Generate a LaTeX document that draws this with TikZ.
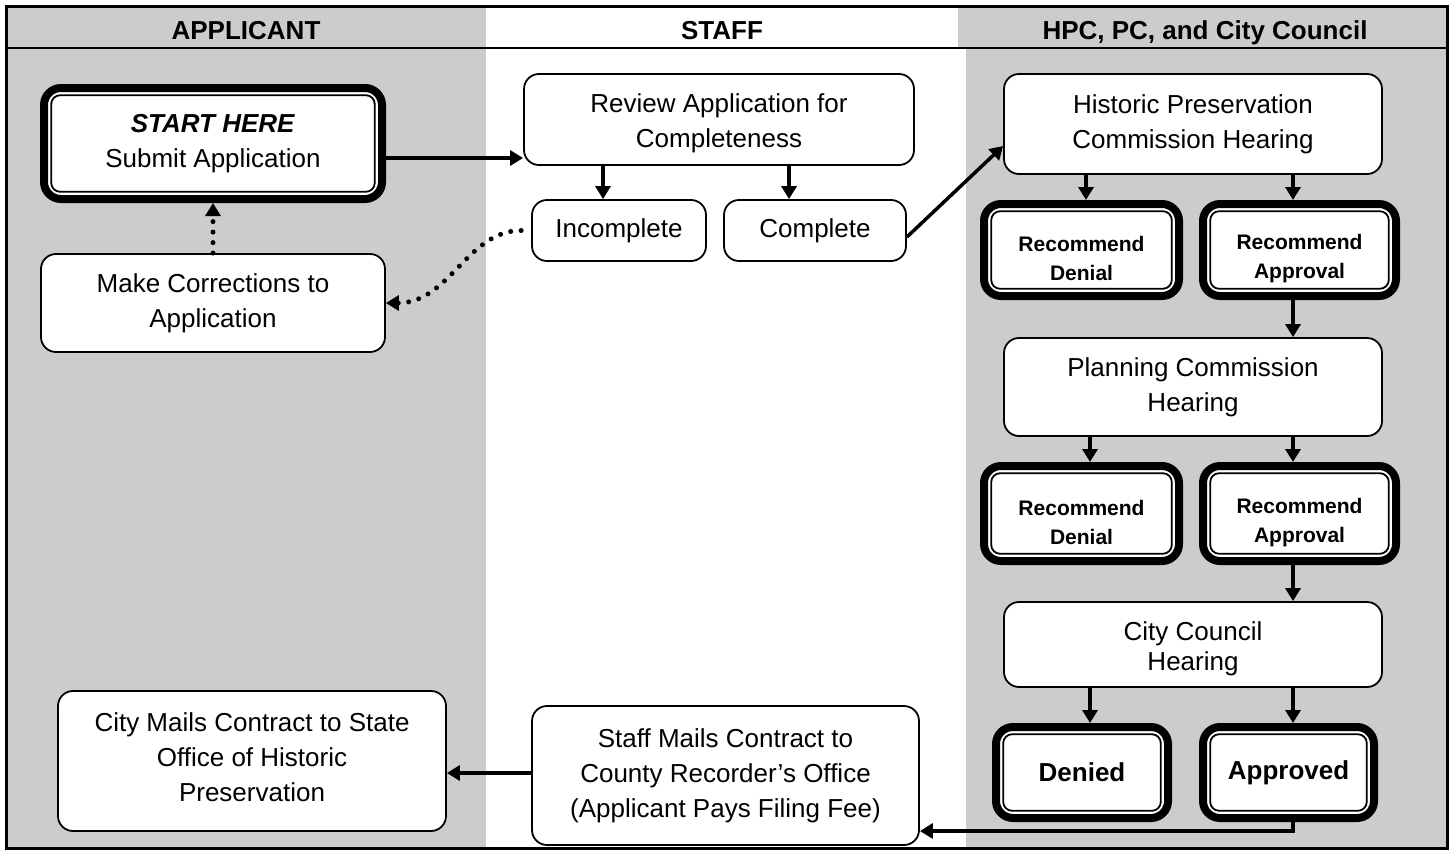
\documentclass[tikz,border=0pt]{standalone}
\usepackage{fontspec}
\setmainfont{Liberation Sans}
\usetikzlibrary{arrows.meta,calc}
\definecolor{lanegray}{RGB}{204,204,204}
\begin{document}
\begin{tikzpicture}[x=1pt,y=-1pt,
  box/.style={draw, line width=1.8pt, rounded corners=15pt, fill=white, align=center, inner sep=0pt, font=\fontsize{26}{35}\selectfont},
  dbox/.style={box, line width=8pt, rounded corners=17pt},
  rec/.style={dbox, font=\bfseries\fontsize{21}{29}\selectfont},
  fin/.style={dbox, font=\bfseries\fontsize{26}{32}\selectfont},
  arr/.style={line width=3.5pt, -{Triangle[length=13pt,width=15pt]}},
  dotarr/.style={line width=5pt, line cap=round, dash pattern=on 0pt off 10.5pt, -{Triangle[length=13pt,width=15pt]}},
  innerline/.style={line width=1.8pt, rounded corners=9pt},
  hdr/.style={font=\bfseries\fontsize{26}{30}\selectfont, anchor=base}]
\useasboundingbox (0,0) rectangle (1453,854);
\fill[white] (0,0) rectangle (1453,854);
% lanes
\fill[lanegray] (6,6) rectangle (486,848);
\fill[lanegray] (958,6) rectangle (1447,48);
\fill[lanegray] (966,48) rectangle (1447,848);
\draw[line width=2.5pt] (6,48) -- (1447,48);
\draw[line width=3pt] (6,6) rectangle (1447,848);
% headers
\node[hdr] (hA) at (246,39.5) {APPLICANT};
\node[hdr] (hS) at (722,39.5) {STAFF};
\node[hdr] (hH) at (1205,39.5) {HPC, PC, and City Council};
% nodes
\node[dbox, minimum width=338pt, minimum height=111pt] (start) at (213,143.5) {\textbf{\textit{START HERE}}\\Submit Application};
\node[box, minimum width=344pt, minimum height=98pt] (Corrections) at (213,303) {Make Corrections to\\Application};
\node[box, minimum width=390pt, minimum height=91pt] (Review) at (719,119.5) {\rule{0pt}{27pt}Review Application for\\Completeness};
\node[box, minimum width=174pt, minimum height=61pt] (Incomplete) at (619,230.5) {Incomplete};
\node[box, minimum width=182pt, minimum height=61pt] (Complete) at (815,230.5) {Complete};
\node[box, minimum width=378pt, minimum height=100pt] (HPC) at (1193,124) {Historic Preservation\\Commission Hearing};
\node[rec, minimum width=195pt, minimum height=92pt] (rd1) at (1081.5,250) {\rule{0pt}{33pt}Recommend\\Denial};
\node[rec, minimum width=193pt, minimum height=92pt] (ra1) at (1299.5,250) {\rule{0pt}{33pt}Recommend\\Approval};
\node[box, minimum width=378pt, minimum height=98pt] (Planning) at (1193,387) {Planning Commission\\Hearing};
\node[rec, minimum width=195pt, minimum height=95pt] (rd2) at (1081.5,513.5) {\rule{0pt}{33pt}Recommend\\Denial};
\node[rec, minimum width=193pt, minimum height=95pt] (ra2) at (1299.5,513.5) {\rule{0pt}{33pt}Recommend\\Approval};
\node[box, minimum width=378pt, minimum height=85pt, font=\fontsize{26}{30}\selectfont] (Council) at (1193,644.5) {\rule{0pt}{27pt}City Council\\Hearing};
\node[fin, minimum width=172pt, minimum height=91pt] (den) at (1082,772.5) {Denied};
\node[fin, minimum width=171pt, minimum height=91pt] (app) at (1288.5,772.5) {Approved};
\node[box, minimum width=387pt, minimum height=139pt] (Staff) at (725.5,775.5) {Staff Mails Contract to\\County Recorder's Office\\(Applicant Pays Filing Fee)};
\node[box, minimum width=388pt, minimum height=140pt] (City) at (252,761) {City Mails Contract to State\\Office of Historic\\Preservation\rule[-8pt]{0pt}{8pt}};
% inner lines of double boxes
\foreach \n in {start,rd1,ra1,rd2,ra2,den,app}
  \draw[innerline] ($(\n.north west)+(11.2,11.2)$) rectangle ($(\n.south east)+(-11.2,-11.2)$);
% helper coordinates
\coordinate (cI) at (603,0);
\coordinate (cC) at (789,0);
\coordinate (cL1) at (1086,0);
\coordinate (cL2) at (1090,0);
\coordinate (cR) at (1293,0);
\coordinate (rS) at (0,158);
\coordinate (rC) at (0,237);
\coordinate (rH) at (0,146);
\coordinate (rB) at (0,831);
\coordinate (rM) at (0,773);
% connectors
\draw[arr] (start.east |- rS) -- (Review.west |- rS);
\draw[arr] (Review.south -| cI) -- (Incomplete.north -| cI);
\draw[arr] (Review.south -| cC) -- (Complete.north -| cC);
\draw[arr] (Complete.east |- rC) -- (HPC.west |- rH);
\draw[dotarr, shorten <=10pt] (Incomplete.west) to[out=180,in=0] (Corrections.east);
\draw[dotarr] (Corrections.north) -- (start.south);
\draw[arr] (HPC.south -| cL1) -- (rd1.north -| cL1);
\draw[arr] (HPC.south -| cR) -- (ra1.north -| cR);
\draw[arr] (ra1.south -| cR) -- (Planning.north -| cR);
\draw[arr] (Planning.south -| cL2) -- (rd2.north -| cL2);
\draw[arr] (Planning.south -| cR) -- (ra2.north -| cR);
\draw[arr] (ra2.south -| cR) -- (Council.north -| cR);
\draw[arr] (Council.south -| cL2) -- (den.north -| cL2);
\draw[arr] (Council.south -| cR) -- (app.north -| cR);
\draw[arr] (app.south -| cR) |- (Staff.east |- rB);
\draw[arr] (Staff.west |- rM) -- (City.east |- rM);
\end{tikzpicture}
\end{document}
